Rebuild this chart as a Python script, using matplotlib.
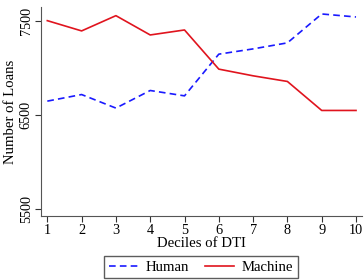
import matplotlib
matplotlib.use("Agg")
import matplotlib.pyplot as plt

deciles = [1, 2, 3, 4, 5, 6, 7, 8, 9, 10]
human = [6645, 6715, 6571, 6758, 6701, 7144, 7200, 7264, 7571, 7539]
machine = [7500, 7391, 7553, 7348, 7401, 6985, 6914, 6854, 6546, 6546]
y_ticks = [5500, 6500, 7500]

plt.rcParams['font.family'] = ['Liberation Serif', 'DejaVu Serif']
plt.rcParams['font.size'] = 10.3

fig = plt.figure(figsize=(3.64, 2.8), dpi=100)
ax = fig.add_axes([0.113, 0.229, 0.882, 0.746])

ax.plot(deciles, human, color='#1a1aff', linestyle=(0, (4, 2.5)), linewidth=1.2, label='Human')
ax.plot(deciles, machine, color='#e0141e', linestyle='-', linewidth=1.2, label='Machine')

ax.set_xlim(0.82, 10.18)
ax.set_ylim(5426, 7645)
ax.set_xticks(deciles)
ax.set_yticks(y_ticks)
ax.set_yticklabels([str(v) for v in y_ticks], rotation=90, va='center')
ax.tick_params(direction='out', length=4, width=0.8, colors='#333333', labelcolor='black', pad=2)
for side in ['top', 'right']:
    ax.spines[side].set_visible(False)
for side in ['left', 'bottom']:
    ax.spines[side].set_color('#555555')
    ax.spines[side].set_linewidth(0.8)

ax.set_xlabel('Deciles of DTI', labelpad=0, fontsize=10.6)
ax.set_ylabel('Number of Loans', labelpad=2, fontsize=10.6)

fig.legend(loc='upper center', bbox_to_anchor=(0.552, 0.085), ncol=2, frameon=True,
           fancybox=False, edgecolor='#333333', handlelength=2.0, columnspacing=1.1,
           borderpad=0.3, borderaxespad=0, handletextpad=0.5, fontsize=10.6)

fig.savefig('out.png', dpi=100)
